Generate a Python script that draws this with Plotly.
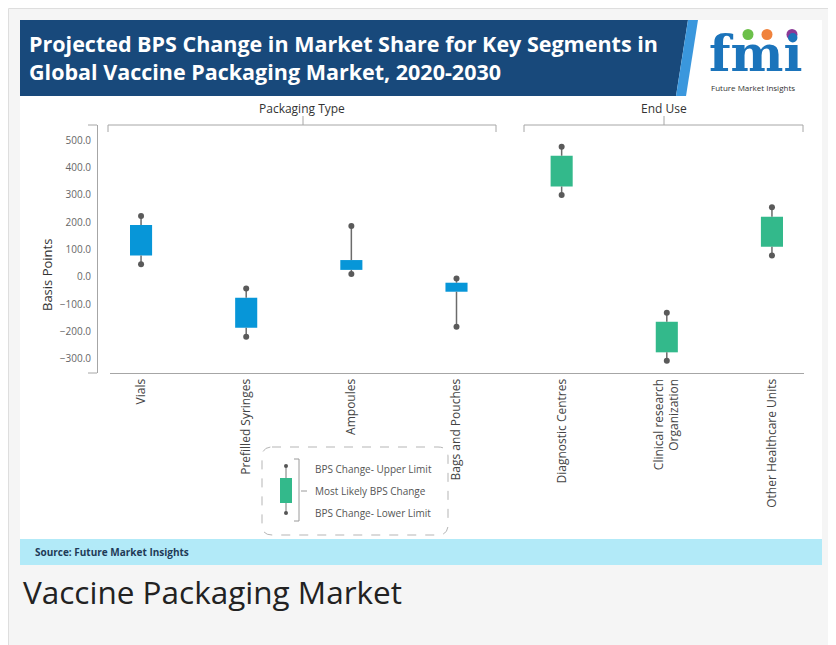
import plotly.graph_objects as go

# ---------------- data ----------------
categories = ["Vials", "Prefilled Syringes", "Ampoules", "Bags and Pouches",
              "Diagnostic Centres", "Clinical research Organization", "Other Healthcare Units"]
tick_labels = ["Vials", "Prefilled Syringes", "Ampoules", "Bags and Pouches",
               "Diagnostic Centres", "Clinical research<br>Organization", "Other Healthcare Units"]
upper_limit = [222, -43, 186, -7, 476, -132, 254]
likely_high = [189, -77, 61, -22, 443, -165, 220]
likely_low = [78, -187, 25, -55, 330, -277, 110]
lower_limit = [46, -220, 10, -183, 299, -308, 78]
segment_group = ["Packaging Type"] * 4 + ["End Use"] * 3
y_ticks = [-300, -200, -100, 0, 100, 200, 300, 400, 500]

# ---------------- styling ----------------
# The page body adds an 8px margin, so the figure is 8px smaller and
# all layout coordinates below are given in window pixels, offset by 8.
OFF = 8
W, H = 836 - OFF, 645 - OFF
BLUE = "#0796d8"
GREEN = "#33b98b"
group_color = {"Packaging Type": BLUE, "End Use": GREEN}
FONT = "Open Sans"


def px(x):
    return (x - OFF) / W


def py(y):
    return 1 - (y - OFF) / H


fig = go.Figure()

# whisker segments (outside the box)
wx, wy = [], []
for c, lo, bl, bh, up in zip(categories, lower_limit, likely_low, likely_high, upper_limit):
    wx += [c, c, None, c, c, None]
    wy += [lo, bl, None, bh, up, None]
fig.add_trace(go.Scatter(x=wx, y=wy, mode="lines",
                         line=dict(color="#6b6b6b", width=1.5), hoverinfo="skip"))
# whisker end dots
fig.add_trace(go.Scatter(x=categories + categories, y=upper_limit + lower_limit, mode="markers",
                         marker=dict(color="#5a5a5a", size=6), hoverinfo="skip"))
# boxes (most likely range)
fig.add_trace(go.Bar(x=categories, y=[h - l for h, l in zip(likely_high, likely_low)],
                     base=likely_low, width=0.21,
                     marker=dict(color=[group_color[g] for g in segment_group], line=dict(width=0)),
                     hoverinfo="skip"))

shapes = []


def rect(x0, y0, x1, y1, fill, line=None, lw=0, layer="below"):
    shapes.append(dict(type="rect", xref="paper", yref="paper",
                       x0=px(x0), x1=px(x1), y0=py(y1), y1=py(y0),
                       fillcolor=fill, line=dict(color=line or fill, width=lw), layer=layer))


def poly(points, fill, layer="below"):
    d = "M " + " L ".join(f"{px(x)},{py(y)}" for x, y in points) + " Z"
    shapes.append(dict(type="path", xref="paper", yref="paper", path=d,
                       fillcolor=fill, line=dict(width=0), layer=layer))


def line(points, color="#a6a6a6", width=1, dash="solid", layer="above"):
    d = "M " + " L ".join(f"{px(x)},{py(y)}" for x, y in points)
    shapes.append(dict(type="path", xref="paper", yref="paper", path=d,
                       line=dict(color=color, width=width, dash=dash), layer=layer))


# page card and chart image background
rect(8.5, 8.5, 833, 646, "#f5f5f5", "#dedede", 1)
rect(20, 20, 822, 539, "#ffffff")
# header banner
poly([(20, 20), (688, 20), (676, 96), (20, 96)], "#18497b")
poly([(688, 20), (698, 20), (686, 96), (676, 96)], "#3a97dd")
# source bar
rect(20, 539, 822, 565, "#b2eaf8")

# logo circles
for cx, col in [(748, "#6cc04a"), (767, "#f0823c"), (792, "#8b3a96")]:
    shapes.append(dict(type="circle", xref="paper", yref="paper",
                       x0=px(cx - 5.5), x1=px(cx + 5.5), y0=py(40), y1=py(29),
                       fillcolor=col, line=dict(width=0), layer="above"))

# group brackets
line([(108, 132), (108, 125), (496, 125), (496, 132)])
line([(303, 125), (303, 116)])
line([(524, 132), (524, 125), (803, 125), (803, 132)])
line([(664, 125), (664, 116)])
# y-axis end ticks
line([(88, 125), (97, 125)])
line([(88, 373), (97, 373)])

# legend box (dashed rounded)
x0, y0, x1, y1, r = 262, 447, 448, 535, 10
d = (f"M {px(x0 + r)},{py(y0)} L {px(x1 - r)},{py(y0)} Q {px(x1)},{py(y0)} {px(x1)},{py(y0 + r)} "
     f"L {px(x1)},{py(y1 - r)} Q {px(x1)},{py(y1)} {px(x1 - r)},{py(y1)} "
     f"L {px(x0 + r)},{py(y1)} Q {px(x0)},{py(y1)} {px(x0)},{py(y1 - r)} "
     f"L {px(x0)},{py(y0 + r)} Q {px(x0)},{py(y0)} {px(x0 + r)},{py(y0)}")
shapes.append(dict(type="path", xref="paper", yref="paper", path=d,
                   line=dict(color="#b5b5b5", width=1, dash="dash"), layer="above"))
# legend icon
line([(286, 466), (286, 513)], color="#777777", width=1)
rect(280, 478, 292, 503, GREEN, layer="above")
for yy in (466, 513):
    shapes.append(dict(type="circle", xref="paper", yref="paper",
                       x0=px(284), x1=px(288), y0=py(yy + 2), y1=py(yy - 2),
                       fillcolor="#555555", line=dict(width=0), layer="above"))
line([(294, 459), (299, 459), (299, 521), (294, 521)], color="#9a9a9a", width=1)
line([(301, 491), (307, 491)], color="#9a9a9a", width=1)

annotations = []


def text(x, y, s, size, color="#333333", xanchor="center", yanchor="middle", family=FONT, angle=0,
         align="left"):
    annotations.append(dict(x=px(x), y=py(y), xref="paper", yref="paper", text=s, showarrow=False,
                            xanchor=xanchor, yanchor=yanchor, textangle=angle, align=align,
                            font=dict(size=size, color=color, family=family)))


text(27, 43, "<b>Projected BPS Change in Market Share for Key Segments in</b>", 21.5, "#ffffff", xanchor="left")
text(27, 72, "<b>Global Vaccine Packaging Market, 2020-2030</b>", 21.5, "#ffffff", xanchor="left")
text(755, 53, "<b>fmi</b>", 50, "#1b74bb", family="DejaVu Serif")
text(753, 88, "Future Market Insights", 8, "#333333")
text(302, 108, "Packaging Type", 12)
text(664, 108, "End Use", 12)
text(47, 275, "Basis Points", 13, "#333333", angle=-90)
text(313, 469, "BPS Change- Upper Limit", 10, "#555555", xanchor="left")
text(313, 491, "Most Likely BPS Change", 10, "#555555", xanchor="left")
text(313, 513, "BPS Change- Lower Limit", 10, "#555555", xanchor="left")
text(33, 552, "<b>Source: Future Market Insights</b>", 10, "#1f3b57", xanchor="left")
text(21, 591, "Vaccine Packaging Market", 31.5, "#222222", xanchor="left")

fig.update_layout(
    width=W, height=H,
    margin=dict(l=0, r=0, t=0, b=0),
    paper_bgcolor="#ffffff",
    plot_bgcolor="rgba(0,0,0,0)",
    showlegend=False,
    hovermode=False,
    font=dict(family=FONT),
    shapes=shapes,
    annotations=annotations,
    xaxis=dict(domain=[px(109.5), px(803.5)], range=[-0.3, 6.3], type="category",
               tickvals=categories, ticktext=tick_labels, tickangle=-90,
               tickfont=dict(size=12, color="#444444", family=FONT),
               showline=True, linecolor="#a6a6a6", linewidth=1, ticks="", showgrid=False,
               zeroline=False),
    yaxis=dict(domain=[py(373), py(125)], range=[-352.7, 555.7], anchor="free", position=px(97),
               tickvals=y_ticks, tickformat=".1f",
               tickfont=dict(size=10, color="#666666", family=FONT),
               showline=True, linecolor="#a6a6a6", linewidth=1, ticks="", showgrid=False,
               zeroline=False, ticklabelstandoff=4),
)

fig.write_html("out.html")
